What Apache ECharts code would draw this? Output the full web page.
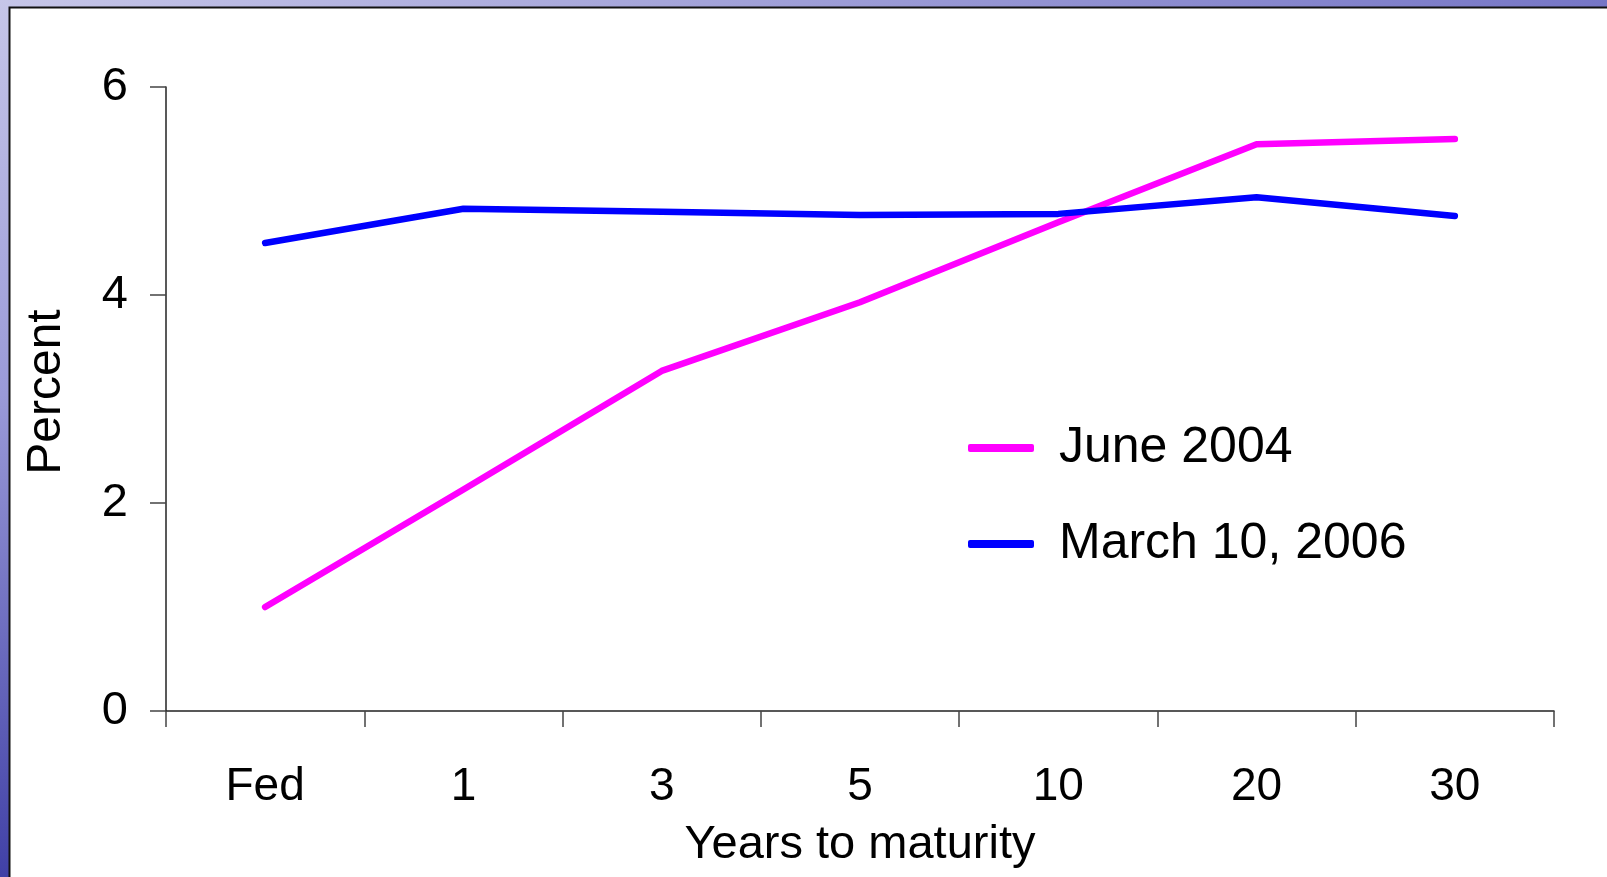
<!DOCTYPE html>
<html>
<head>
<meta charset="utf-8">
<style>
  html, body { margin: 0; padding: 0; background: #fff; }
  #chart { width: 1607px; height: 877px; }
</style>
<script src="https://cdn.jsdelivr.net/npm/echarts@6/dist/echarts.min.js"></script>
</head>
<body>
<div id="chart"></div>
<script>
// Treasury yield curves by maturity
const maturities = ['Fed', '1', '3', '5', '10', '20', '30'];
const june2004 = [1.0, 2.13, 3.27, 3.93, 4.7, 5.45, 5.5];
const march2006 = [4.5, 4.83, 4.8, 4.77, 4.78, 4.94, 4.76];
const seriesNames = ['June 2004', 'March 10, 2006'];
const yTicks = { min: 0, max: 6, step: 2 };

const FONT = '"Liberation Sans", Arial, sans-serif';
const chart = echarts.init(document.getElementById('chart'));

chart.setOption({
  animation: false,
  backgroundColor: '#ffffff',
  graphic: [
    // slide frame: top strip and left strip
    {
      type: 'rect', left: 0, top: 0, z: 100,
      shape: { width: 1607, height: 7 },
      style: { fill: new echarts.graphic.LinearGradient(0, 0, 1, 0, [
        { offset: 0, color: '#c6c6e8' }, { offset: 1, color: '#7676c6' }]) }
    },
    {
      type: 'rect', left: 0, top: 0, z: 100,
      shape: { width: 9, height: 877 },
      style: { fill: new echarts.graphic.LinearGradient(0, 0, 0, 1, [
        { offset: 0, color: '#c6c6e8' }, { offset: 0.45, color: '#9a9ad8' }, { offset: 1, color: '#4040a6' }]) }
    },
    {
      type: 'polyline', z: 101,
      shape: { points: [[9.5, 877], [9.5, 7.5], [1607, 7.5]] },
      style: { stroke: '#111', lineWidth: 2, fill: null }
    }
  ],
  legend: {
    orient: 'vertical',
    left: 963,
    top: 418,
    itemWidth: 66,
    itemHeight: 8,
    itemGap: 46,
    icon: 'roundRect',
    textStyle: { fontFamily: FONT, fontSize: 50, color: '#000', lineHeight: 50, padding: [0, 0, 0, 20] },
    data: seriesNames
  },
  grid: { left: 166, top: 87, right: 53, bottom: 166 },
  xAxis: {
    type: 'category',
    data: maturities,
    boundaryGap: true,
    name: 'Years to maturity',
    nameLocation: 'middle',
    nameGap: 111,
    nameTextStyle: { fontFamily: FONT, fontSize: 47, color: '#000' },
    axisLine: { lineStyle: { color: '#222', width: 1.5 } },
    axisTick: { show: true, length: 16, interval: 0, lineStyle: { color: '#444', width: 1.5 } },
    axisLabel: { fontFamily: FONT, fontSize: 46, color: '#000', margin: 53, interval: 0 },
    splitLine: { show: false }
  },
  yAxis: {
    type: 'value',
    min: yTicks.min,
    max: yTicks.max,
    interval: yTicks.step,
    name: 'Percent',
    nameLocation: 'middle',
    nameGap: 95,
    nameRotate: 90,
    nameTextStyle: { fontFamily: FONT, fontSize: 48, color: '#000', padding: [0, 0, 0, 14] },
    axisLine: { show: true, lineStyle: { color: '#222', width: 1.5 } },
    axisTick: { show: true, length: 16, lineStyle: { color: '#444', width: 1.5 } },
    axisLabel: { fontFamily: FONT, fontSize: 47, color: '#000', margin: 38 },
    splitLine: { show: false }
  },
  series: [
    {
      name: seriesNames[0], type: 'line', data: june2004,
      showSymbol: false, symbol: 'none',
      itemStyle: { color: '#ff00ff' },
      lineStyle: { color: '#ff00ff', width: 6.5, cap: 'round', join: 'round' }
    },
    {
      name: seriesNames[1], type: 'line', data: march2006,
      showSymbol: false, symbol: 'none',
      itemStyle: { color: '#0000ff' },
      lineStyle: { color: '#0000ff', width: 6.5, cap: 'round', join: 'round' }
    }
  ]
});
</script>
</body>
</html>
